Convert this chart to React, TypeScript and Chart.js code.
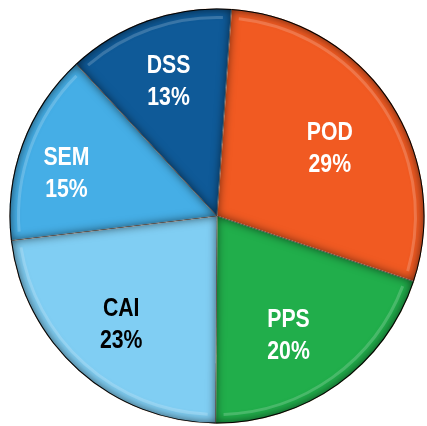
import React, { useEffect, useRef } from "react";
import { Chart, registerables } from "chart.js";

Chart.register(...registerables);

const categories = ["POD", "PPS", "CAI", "SEM", "DSS"];
const shares = [29, 20, 23, 15, 13];
const sliceColors = ["#F15A22", "#21AE4B", "#80CEF3", "#45AEE6", "#0F5A98"];
const labelColors = ["#FFFFFF", "#FFFFFF", "#000000", "#FFFFFF", "#FFFFFF"];
// label placement style: fraction of radius and angular nudge (degrees)
const labelRadius = [0.632, 0.673, 0.698, 0.753, 0.686];
const labelShift = [3.1, 4.8, -0.4, -4.7, -0.5];

const labelPlugin = {
  id: "sliceLabels",
  afterDatasetsDraw(chart: any) {
    const ctx = chart.ctx as CanvasRenderingContext2D;
    const meta = chart.getDatasetMeta(0);
    meta.data.forEach((arc: any) => {
      const { x, y, startAngle, endAngle, outerRadius } = arc.getProps(
        ["x", "y", "startAngle", "endAngle", "outerRadius"],
        true
      );
      ctx.save();
      ctx.beginPath();
      ctx.moveTo(x, y);
      ctx.arc(x, y, outerRadius, startAngle, endAngle);
      ctx.closePath();
      ctx.clip();
      ctx.shadowColor = "rgba(0,0,0,0.6)";
      ctx.shadowBlur = 10;
      ctx.beginPath();
      ctx.rect(-2000, -2000, 5000, 5000);
      ctx.moveTo(x, y);
      ctx.arc(x, y, outerRadius - 1, startAngle, endAngle);
      ctx.closePath();
      ctx.fillStyle = "rgba(0,0,0,1)";
      ctx.fill("evenodd");
      ctx.restore();
      ctx.save();
      ctx.beginPath();
      ctx.arc(x, y, outerRadius - 9, startAngle + 0.04, endAngle - 0.04);
      ctx.strokeStyle = "rgba(255,255,255,0.18)";
      ctx.lineWidth = 3;
      ctx.stroke();
      ctx.restore();
    });
    meta.data.forEach((arc: any, i: number) => {
      const { x, y, startAngle, endAngle, outerRadius } = arc.getProps(
        ["x", "y", "startAngle", "endAngle", "outerRadius"],
        true
      );
      const mid = (startAngle + endAngle) / 2 + (labelShift[i] * Math.PI) / 180;
      const r = outerRadius * labelRadius[i];
      const cx = x + Math.cos(mid) * r;
      const cy = y + Math.sin(mid) * r;
      ctx.save();
      ctx.fillStyle = labelColors[i];
      ctx.font = "bold 25px 'Liberation Sans', Arial, sans-serif";
      ctx.textAlign = "center";
      ctx.textBaseline = "middle";
      ctx.translate(cx, cy);
      ctx.scale(0.85, 1);
      ctx.fillText(categories[i], 0, -16);
      ctx.fillText(shares[i] + "%", 0, 16);
      ctx.restore();
    });
  },
};

export default function App() {
  const ref = useRef<HTMLCanvasElement | null>(null);
  useEffect(() => {
    if (!ref.current) return;
    const chart = new Chart(ref.current, {
      type: "pie",
      data: {
        labels: categories,
        datasets: [
          {
            data: shares,
            backgroundColor: sliceColors,
            borderColor: "rgba(255,220,200,0.7)",
            borderWidth: 1,
          },
        ],
      },
      options: {
        animation: false,
        responsive: false,
        rotation: 4,
        layout: { padding: { left: 9, right: 2, top: 8, bottom: 2 } },
        plugins: {
          legend: { display: false },
          tooltip: { enabled: false },
        },
      },
      plugins: [labelPlugin],
    });
    return () => chart.destroy();
  }, []);
  return (
    <div style={{ position: "fixed", left: 0, top: 0, width: 427, height: 426, background: "#fff" }}>
      <canvas ref={ref} width={427} height={426} style={{ width: 427, height: 426 }} />
    </div>
  );
}
